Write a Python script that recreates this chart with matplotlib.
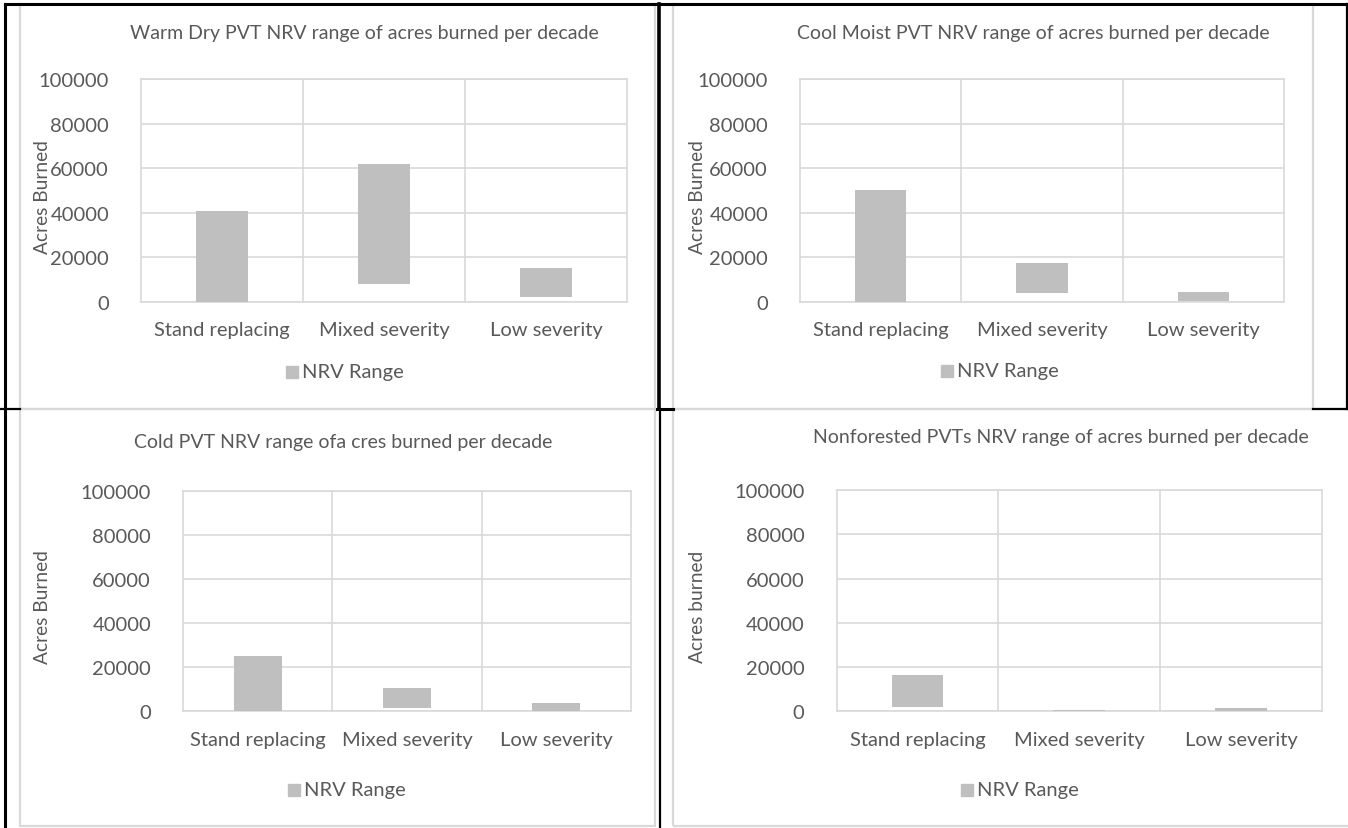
import numpy as np
import matplotlib
matplotlib.use("Agg")
import matplotlib.pyplot as plt
from matplotlib.lines import Line2D
from matplotlib.patches import Rectangle

# Data: NRV range (low, high) of acres burned per decade
categories = ["Stand replacing", "Mixed severity", "Low severity"]

titles = [
    "Warm Dry PVT NRV range of acres burned per decade",
    "Cool Moist PVT NRV range of acres burned per decade",
    "Cold PVT NRV range ofa cres burned per decade",
    "Nonforested PVTs NRV range of acres burned per decade",
]
ylabels = ["Acres Burned", "Acres Burned", "Acres Burned", "Acres burned"]

warm_dry_low = [0, 7900, 2100]
warm_dry_high = [40900, 61900, 15400]
cool_moist_low = [0, 4000, 300]
cool_moist_high = [50100, 17400, 4350]
cold_low = [0, 1700, 200]
cold_high = [25100, 10600, 3800]
nonforest_low = [2100, 0, 200]
nonforest_high = [16400, 400, 1400]

lows = [warm_dry_low, cool_moist_low, cold_low, nonforest_low]
highs = [warm_dry_high, cool_moist_high, cold_high, nonforest_high]

W, H = 1348, 829
TXT = "#595959"
GRID = "#d9d9d9"
BAR = "#bfbfbf"

plt.rcParams["font.family"] = ["Lato", "DejaVu Sans"]

fig = plt.figure(figsize=(W / 100, H / 100), dpi=100)
fig.patch.set_facecolor("white")


def px_axes(x0, y0, x1, y1):
    return fig.add_axes([x0 / W, 1 - y1 / H, (x1 - x0) / W, (y1 - y0) / H])


def fx(x):
    return x / W


def fy(y):
    return 1 - y / H


# plot areas in pixels: (left, top, right, bottom)
areas = [(141, 80, 627, 303), (800, 80, 1284, 302.7),
         (183, 491.7, 631, 712.3), (836.5, 491, 1322, 712.3)]
title_pos = [(364, 33), (1033, 33), (343, 443), (1061, 438)]
ylabel_pos = [(43, 197), (698, 197), (43, 607), (698, 607)]
legend_pos = [(286, 373), (941, 372), (288, 791), (961, 791)]

# chart frames (light gray) and table borders (black)
frames = [(20, 5, 655, 410), (673, 5, 1313, 410), (20, 410, 655, 827), (673, 410, 1352, 827)]
for (x0, y0, x1, y1) in frames:
    fig.add_artist(Rectangle((fx(x0), fy(y1)), fx(x1 - x0), (y1 - y0) / H,
                             transform=fig.transFigure, fill=False,
                             edgecolor=GRID, lw=1.6))

black_lines = [
    ((5, 1347), (5, 5), 2.2),
    ((5, 5), (5, 829), 2.2),
    ((659, 659), (5, 410), 2.6),
    ((660, 660), (410, 829), 1.6),
    ((1347, 1347), (5, 410), 1.6),
    ((0, 20), (410, 410), 1.6),
    ((657, 673), (410, 410), 2.2),
    ((1313, 1347), (410, 410), 1.6),
]
for xs, ys, lw in black_lines:
    fig.add_artist(Line2D([fx(xs[0]), fx(xs[1])], [fy(ys[0]), fy(ys[1])],
                          transform=fig.transFigure, color="black", lw=lw))

x = np.arange(len(categories))
for i in range(4):
    ax = px_axes(*areas[i])
    lo = np.array(lows[i])
    hi = np.array(highs[i])
    ax.bar(x, hi - lo, bottom=lo, width=0.32, color=BAR, zorder=3)
    ax.set_xlim(-0.5, 2.5)
    ax.set_ylim(0, 100000)
    ax.set_yticks(np.arange(0, 100001, 20000))
    ax.set_xticks(x)
    ax.set_xticklabels(categories)
    ax.grid(axis="y", color=GRID, lw=1.2, zorder=0)
    for b in [0.5, 1.5]:
        ax.axvline(b, color=GRID, lw=1.2, zorder=0)
    for s in ax.spines.values():
        s.set_color(GRID)
        s.set_linewidth(1.2)
    ax.tick_params(length=0, labelsize=14.5, labelcolor=TXT)
    ax.tick_params(axis="y", pad=23)
    ax.tick_params(axis="x", pad=14)

    tx, ty = title_pos[i]
    fig.text(fx(tx), fy(ty), titles[i], ha="center", va="center",
             fontsize=14, color=TXT)
    lx, ly = ylabel_pos[i]
    fig.text(fx(lx), fy(ly), ylabels[i], ha="center", va="center",
             rotation=90, fontsize=13.8, color=TXT)
    gx, gy = legend_pos[i]
    fig.add_artist(Rectangle((fx(gx), fy(gy + 6)), fx(12), 12 / H,
                             transform=fig.transFigure, color=BAR))
    fig.text(fx(gx + 16), fy(gy), "NRV Range", ha="left", va="center",
             fontsize=14.5, color=TXT)

fig.savefig("out.png", dpi=100)
